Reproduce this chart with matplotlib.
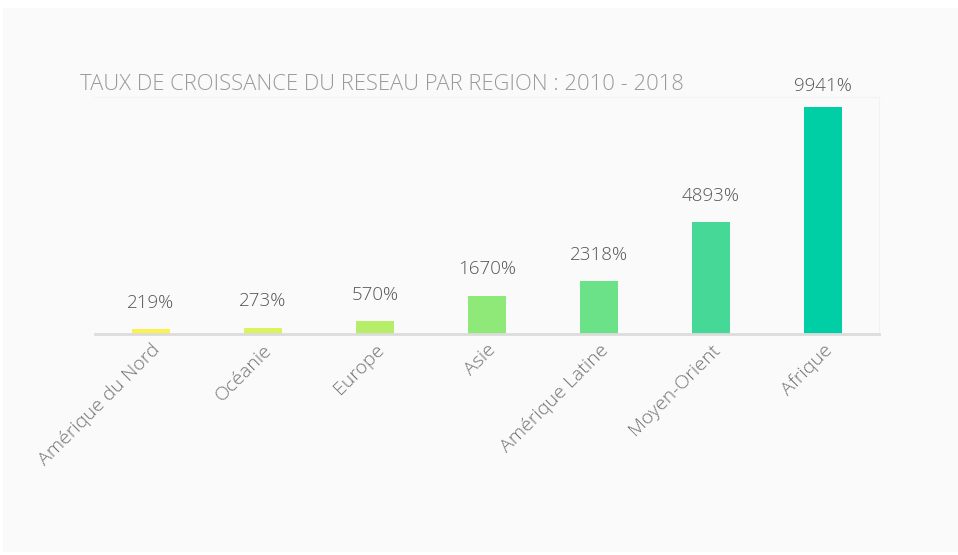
import matplotlib.pyplot as plt
from matplotlib.patches import Rectangle

regions = ["Amérique du Nord", "Océanie", "Europe", "Asie",
           "Amérique Latine", "Moyen-Orient", "Afrique"]
growth = [219, 273, 570, 1670, 2318, 4893, 9941]
colors = ["#fbf24f", "#dbf35c", "#b6ee6a", "#8fe979", "#6be287", "#45d896", "#00cfa5"]

plt.rcParams['font.family'] = ['Open Sans', 'DejaVu Sans']

fig = plt.figure(figsize=(9.58, 5.55), dpi=100)
fig.patch.set_facecolor("white")
# light grey panel behind everything
fig.add_artist(Rectangle((3 / 958, 3 / 555), 955 / 958, 544 / 555,
                         transform=fig.transFigure, facecolor="#fafafa",
                         edgecolor="none", zorder=-10))

ax = fig.add_axes([95 / 958, 1 - 334 / 555, 784 / 958, 237 / 555])
ax.set_facecolor("#fafafa")

x = range(len(regions))
bars = ax.bar(x, growth, width=0.34, color=colors, zorder=2)
ax.set_xlim(-0.5, 6.5)
ax.set_ylim(0, 10370)

for i, (b, v) in enumerate(zip(bars, growth)):
    off = 15 if i == len(growth) - 1 else 19
    ax.annotate(f"{v}%", (b.get_x() + b.get_width() / 2, v),
                xytext=(0, off), textcoords="offset points",
                ha="center", va="center", fontsize=13.5,
                color="#555555", fontweight="light")

ax.set_xticks(list(x))
ax.set_xticklabels(regions, rotation=45, ha="right", rotation_mode="anchor",
                   fontsize=14, color="#737373", fontweight="light")
ax.tick_params(axis="x", length=0, pad=5)
ax.set_yticks([])

for s in ["top", "right", "left"]:
    ax.spines[s].set_color("#f2f2f2")
    ax.spines[s].set_linewidth(0.8)
ax.spines["left"].set_visible(False)
ax.spines["bottom"].set_color("#dcdcdc")
ax.spines["bottom"].set_linewidth(2)

fig.text(80 / 958, 1 - 85 / 555, "TAUX DE CROISSANCE DU RESEAU PAR REGION : 2010 - 2018",
         fontsize=15.8, color="#9a9a9a", fontweight="light", va="center", ha="left")

fig.savefig("out.png", dpi=100, facecolor=fig.get_facecolor())
